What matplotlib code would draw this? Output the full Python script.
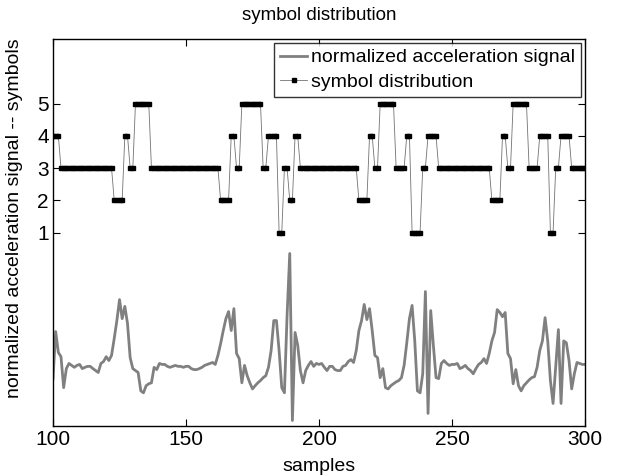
import numpy as np
import matplotlib
matplotlib.use("Agg")
import matplotlib.pyplot as plt

plt.rcParams['font.family'] = ['Liberation Sans', 'DejaVu Sans']

# sample index 100..300
samples = np.arange(100, 301)

# normalized acceleration signal (shifted below the symbols)
signal = [
    -3.53, -2.07, -2.72, -2.85, -3.81, -3.22, -3.06, -3.12, -3.18, -3.12,
    -3.09, -3.22, -3.18, -3.15, -3.15, -3.22, -3.28, -3.34, -3.06, -3.00,
    -2.85, -2.97, -2.81, -2.29, -1.73, -1.08, -1.67, -1.29, -1.82, -2.88,
    -3.22, -3.28, -3.34, -3.91, -3.97, -3.75, -3.69, -3.66, -3.18, -3.25,
    -3.06, -3.09, -3.09, -3.15, -3.18, -3.15, -3.12, -3.15, -3.15, -3.18,
    -3.15, -3.15, -3.22, -3.25, -3.25, -3.22, -3.18, -3.12, -3.09, -3.06,
    -3.03, -3.09, -2.81, -2.45, -2.04, -1.67, -1.45, -2.04, -1.36, -2.75,
    -2.91, -3.66, -3.12, -3.44, -3.66, -3.85, -3.75, -3.66, -3.59, -3.50,
    -3.44, -3.18, -2.66, -1.73, -1.73, -2.66, -3.81, -3.97, -1.57, 0.35,
    -4.83, -2.10, -2.50, -3.28, -3.66, -3.28, -3.12, -3.00, -3.15, -3.06,
    -3.09, -3.06, -3.18, -3.28, -3.15, -3.15, -3.25, -3.28, -3.28, -3.15,
    -3.12, -3.00, -2.94, -3.03, -2.66, -2.04, -1.73, -1.23, -1.70, -1.36,
    -2.04, -2.81, -2.88, -3.50, -3.22, -3.81, -3.85, -3.75, -3.69, -3.63,
    -3.59, -3.50, -3.12, -2.42, -1.67, -1.26, -2.36, -3.91, -3.97, -3.38,
    -0.83, -4.61, -1.42, -2.50, -3.50, -3.53, -3.06, -2.97, -3.06, -3.12,
    -3.09, -3.09, -3.06, -3.22, -3.18, -3.12, -3.22, -3.28, -3.38, -3.22,
    -3.09, -3.03, -2.91, -3.06, -2.75, -2.36, -2.10, -1.39, -1.48, -1.61,
    -1.48, -2.75, -2.91, -3.69, -3.25, -3.75, -3.91, -3.75, -3.66, -3.57,
    -3.50, -3.47, -3.18, -2.66, -2.36, -1.64, -2.36, -3.59, -4.30, -3.15,
    -2.01, -4.30, -2.36, -2.42, -2.97, -3.85, -3.38, -3.03, -3.06, -3.09,
    -3.09,
]

# symbol per sample (1..5)
symbols = [
    4, 4, 4,
    3, 3, 3, 3, 3, 3, 3, 3, 3, 3, 3, 3, 3, 3, 3, 3, 3, 3, 3, 3,
    2, 2, 2, 2, 4, 4, 3, 3, 5, 5, 5, 5, 5, 5,
    3, 3, 3, 3, 3, 3, 3, 3, 3, 3, 3, 3, 3, 3, 3, 3, 3, 3, 3, 3, 3, 3, 3, 3, 3, 3,
    2, 2, 2, 2, 4, 4, 3, 3, 5, 5, 5, 5, 5, 5, 5, 5, 3, 3, 4, 4, 4, 4,
    1, 1, 3, 3, 2, 2, 4, 4,
    3, 3, 3, 3, 3, 3, 3, 3, 3, 3, 3, 3, 3, 3, 3, 3, 3, 3, 3, 3, 3, 3,
    2, 2, 2, 2, 4, 4, 3, 3, 5, 5, 5, 5, 5, 5, 3, 3, 3, 3, 4, 4,
    1, 1, 1, 1, 3, 3, 4, 4, 4, 4,
    3, 3, 3, 3, 3, 3, 3, 3, 3, 3, 3, 3, 3, 3, 3, 3, 3, 3, 3, 3,
    2, 2, 2, 2, 4, 4, 3, 3, 5, 5, 5, 5, 5, 5, 3, 3, 3, 3, 4, 4, 4, 4,
    1, 1, 3, 3, 4, 4, 4, 4, 3, 3, 3, 3, 3, 3,
]

xticks = [100, 150, 200, 250, 300]
yticks = [1, 2, 3, 4, 5]

fig = plt.figure(figsize=(6.32, 4.76), dpi=100)
ax = fig.add_axes([0.0839, 0.105, 0.8417, 0.813])

ax.plot(samples, signal, color='0.5', lw=2.0, label='normalized acceleration signal')
ax.plot(samples, symbols, color='0.45', lw=0.6, marker='s', markersize=3.2,
        markerfacecolor='black', markeredgecolor='black',
        label='symbol distribution')

ax.set_xlim(100, 300)
ax.set_ylim(-5, 7)
ax.set_xticks(xticks)
ax.set_yticks(yticks)
ax.tick_params(direction='in', length=5, width=0.8, top=True, right=True,
               labelsize=15, pad=3)
for sp in ax.spines.values():
    sp.set_linewidth(1.0)

ax.set_title('symbol distribution', fontsize=13.5, pad=14)
ax.set_xlabel('samples', fontsize=14, labelpad=6)
ax.set_ylabel('normalized acceleration signal -- symbols', fontsize=14, labelpad=0)
ax.yaxis.set_label_coords(-0.056, 0.537)

leg = ax.legend(loc='upper right', fontsize=14, frameon=True, fancybox=False,
                borderaxespad=0.2, borderpad=0.3, handlelength=1.4,
                handletextpad=0.2, labelspacing=0.35)
leg.get_frame().set_edgecolor('black')
leg.get_frame().set_linewidth(1.0)

fig.savefig('out.png', dpi=100)
